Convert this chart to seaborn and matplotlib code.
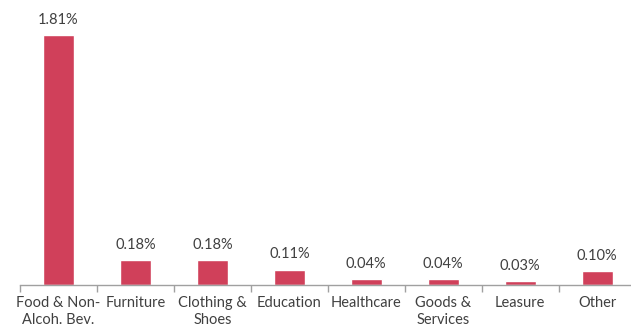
import matplotlib
matplotlib.use("Agg")
import matplotlib.pyplot as plt
import seaborn as sns
import pandas as pd
import numpy as np

categories = ["Food & Non-\nAlcoh. Bev.", "Furniture", "Clothing &\nShoes", "Education",
              "Healthcare", "Goods &\nServices", "Leasure", "Other"]
values = [1.81, 0.18, 0.18, 0.11, 0.04, 0.04, 0.03, 0.10]
labels = ["1.81%", "0.18%", "0.18%", "0.11%", "0.04%", "0.04%", "0.03%", "0.10%"]

sns.set_style("white")
plt.rcParams["font.family"] = ["Lato", "DejaVu Sans"]

df = pd.DataFrame({"cat": categories, "val": values})

fig = plt.figure(figsize=(6.31, 3.34), dpi=100)
ax = fig.add_axes([20/631, 49/334, 611/631, 276.2/334])
sns.barplot(data=df, x="cat", y="val", color="#D0405A", width=0.4, ax=ax, saturation=1)

ax.set_ylim(0, 2.0)
ax.set_xlim(-0.5, 7.44)
for p, lab in zip(ax.patches, labels):
    ax.annotate(lab, (p.get_x() + p.get_width()/2, p.get_height()),
                xytext=(0, 6), textcoords="offset points", ha="center", va="bottom",
                fontsize=10.5, color="#404040")

ax.set_xlabel("")
ax.set_ylabel("")
ax.set_yticks([])
for s in ["top", "right", "left"]:
    ax.spines[s].set_visible(False)
ax.spines["bottom"].set_color("#A0A0A0")
ax.spines["bottom"].set_linewidth(1)

ax.set_xticks(range(len(categories)))
ax.set_xticklabels(categories, fontsize=10.5, color="#404040", linespacing=1.3)
ax.tick_params(axis="x", which="major", length=0, pad=8)
ax.set_xticks(np.arange(-0.5, 7.5, 1), minor=True)
ax.tick_params(axis="x", which="minor", length=5, color="#A0A0A0", width=1, direction="out", bottom=True)

fig.savefig("out.png", dpi=100)
